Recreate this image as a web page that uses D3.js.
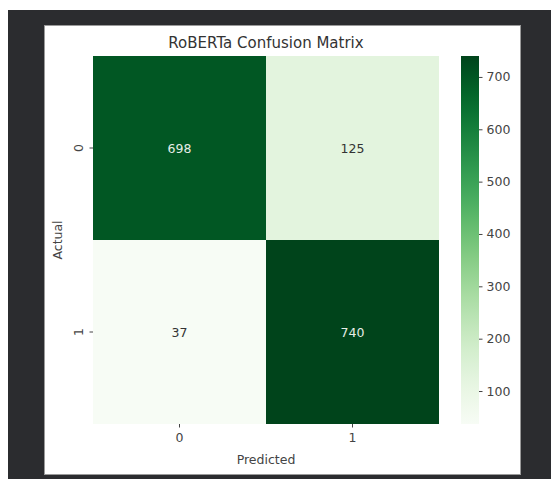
<!DOCTYPE html>
<html>
<head>
<meta charset="utf-8">
<script src="https://cdn.jsdelivr.net/npm/d3@7"></script>
<style>
  body { margin: 0; background: #fff; }
  text { font-family: "DejaVu Sans", sans-serif; }
</style>
</head>
<body>
<div id="chart"></div>
<script>
// data
const actual = ["0", "1"];
const predicted = ["0", "1"];
const counts = [
  [698, 125],
  [37, 740]
];
const cbarTicks = [100, 200, 300, 400, 500, 600, 700];

const W = 551, H = 479;
const hm = {x0: 93, x1: 439, y0: 56, y1: 424};
const cb = {x0: 461, x1: 479};

const svg = d3.select("#chart").append("svg")
    .attr("width", W)
    .attr("height", H);

// notebook background + figure panel
svg.append("rect").attr("x", 8).attr("y", 10).attr("width", W - 8).attr("height", H - 10).attr("fill", "#2b2c2f");
svg.append("rect").attr("x", 44.5).attr("y", 25.5).attr("width", 476).attr("height", 449)
    .attr("fill", "#fff").attr("stroke", "#9a9a9a").attr("stroke-width", 1);

const cells = [];
counts.forEach((row, i) => row.forEach((v, j) => cells.push({r: actual[i], c: predicted[j], v})));
const vmin = d3.min(cells, d => d.v), vmax = d3.max(cells, d => d.v);

const x = d3.scaleBand().domain(predicted).range([hm.x0, hm.x1]);
const y = d3.scaleBand().domain(actual).range([hm.y0, hm.y1]);
const color = d3.scaleSequential(d3.interpolateGreens).domain([vmin, vmax]);

svg.selectAll("rect.cell").data(cells).join("rect")
    .attr("class", "cell")
    .attr("x", d => x(d.c))
    .attr("y", d => y(d.r))
    .attr("width", x.bandwidth())
    .attr("height", y.bandwidth())
    .attr("fill", d => color(d.v));

svg.selectAll("text.annot").data(cells).join("text")
    .attr("class", "annot")
    .attr("x", d => x(d.c) + x.bandwidth() / 2)
    .attr("y", d => y(d.r) + y.bandwidth() / 2)
    .attr("text-anchor", "middle")
    .attr("dy", "0.36em")
    .attr("font-size", 12.5)
    .attr("fill", d => (d.v - vmin) / (vmax - vmin) > 0.5 ? "#e6ede6" : "#333")
    .text(d => d.v);

// axes
const xAxis = svg.append("g").attr("transform", `translate(0,${hm.y1})`)
    .call(d3.axisBottom(x).tickSize(3.5).tickPadding(6));
const yAxis = svg.append("g").attr("transform", `translate(${hm.x0},0)`)
    .call(d3.axisLeft(y).tickSize(3.5).tickPadding(4));
[xAxis, yAxis].forEach(g => {
  g.select(".domain").remove();
  g.selectAll("line").attr("stroke", "#444");
  g.selectAll("text").attr("font-size", 12.5).attr("fill", "#444").style("font-family", "DejaVu Sans");
});
yAxis.selectAll(".tick text")
    .attr("text-anchor", "middle")
    .attr("x", null)
    .attr("transform", "translate(-15,0) rotate(-90)")
    .attr("dy", "0.36em");

// colorbar
const cy = d3.scaleLinear().domain([vmin, vmax]).range([hm.y1, hm.y0]);
const grad = svg.append("defs").append("linearGradient")
    .attr("id", "cbar").attr("x1", 0).attr("y1", 1).attr("x2", 0).attr("y2", 0);
d3.range(0, 1.0001, 0.05).forEach(t => {
  grad.append("stop").attr("offset", t).attr("stop-color", d3.interpolateGreens(t));
});
svg.append("rect")
    .attr("x", cb.x0).attr("y", hm.y0)
    .attr("width", cb.x1 - cb.x0).attr("height", hm.y1 - hm.y0)
    .attr("fill", "url(#cbar)");
const cAxis = svg.append("g").attr("transform", `translate(${cb.x1},0)`)
    .call(d3.axisRight(cy).tickValues(cbarTicks).tickSize(3.5).tickPadding(4));
cAxis.select(".domain").remove();
cAxis.selectAll("line").attr("stroke", "#444");
cAxis.selectAll("text").attr("font-size", 12.5).attr("fill", "#444").style("font-family", "DejaVu Sans");

// labels
svg.append("text")
    .attr("x", (hm.x0 + hm.x1) / 2).attr("y", 48)
    .attr("text-anchor", "middle")
    .attr("font-size", 15).attr("fill", "#333")
    .text("RoBERTa Confusion Matrix");
svg.append("text")
    .attr("x", (hm.x0 + hm.x1) / 2).attr("y", 464)
    .attr("text-anchor", "middle")
    .attr("font-size", 12.5).attr("fill", "#444")
    .text("Predicted");
svg.append("text")
    .attr("transform", `translate(62,${(hm.y0 + hm.y1) / 2}) rotate(-90)`)
    .attr("text-anchor", "middle")
    .attr("font-size", 12.5).attr("fill", "#444")
    .text("Actual");
</script>
</body>
</html>
